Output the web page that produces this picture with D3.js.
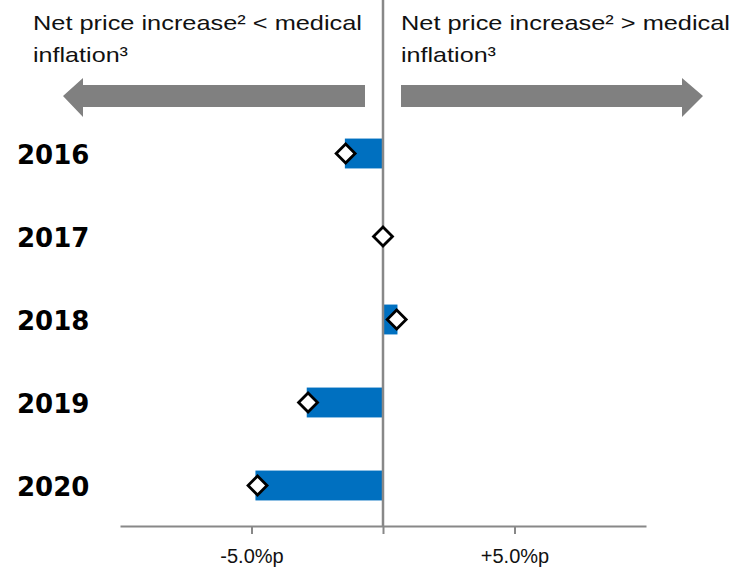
<!DOCTYPE html>
<html>
<head>
<meta charset="utf-8">
<script src="https://cdn.jsdelivr.net/npm/d3@7"></script>
<style>
  body { margin: 0; background: #fff; }
  svg { display: block; }
</style>
</head>
<body>
<svg id="chart" width="736" height="573"></svg>
<script>
var years = ["2016", "2017", "2018", "2019", "2020"];
var barValues = [-1.45, 0, 0.55, -2.9, -4.85];
var markerValues = [-1.42, 0, 0.52, -2.85, -4.77];
var tickValues = [-5, 0, 5];
var tickLabels = ["-5.0%p", "", "+5.0%p"];
var headerLeft = ["Net price increase² < medical", "inflation³"];
var headerRight = ["Net price increase² > medical", "inflation³"];

var svg = d3.select("#chart");
var GREY = "#888888";
var BLUE = "#0070c0";
var AXIS_Y = 526;

var x = d3.scaleLinear().domain([-10, 10]).range([120, 646]);
var y = d3.scaleBand().domain(years).range([112, 527])
  .paddingInner(0.64).paddingOuter(0.32);

// header texts, stretched a bit to the width of the original's wide face
var LINE_W = [329, 95];
function header(lines, x0) {
  var t = svg.append("text")
    .attr("x", x0)
    .attr("y", 30)
    .style("font-family", "'Liberation Sans', Arial, sans-serif")
    .style("font-size", "21px")
    .style("fill", "#111");
  t.selectAll("tspan").data(lines).enter().append("tspan")
    .attr("x", x0)
    .attr("dy", function (d, i) { return i ? 32 : 0; })
    .attr("textLength", function (d, i) { return LINE_W[i]; })
    .attr("lengthAdjust", "spacingAndGlyphs")
    .text(function (d) { return d; });
}
header(headerLeft, 33);
header(headerRight, 401);

// direction arrows
var arrowTop = 85, arrowBot = 107, headTop = 78, headBot = 117;
var mid = (arrowTop + arrowBot) / 2;
svg.append("path")
  .attr("d", "M365," + arrowTop + "L83," + arrowTop + "L83," + headTop + "L63," + mid +
    "L83," + headBot + "L83," + arrowBot + "L365," + arrowBot + "Z")
  .style("fill", "#808080");
svg.append("path")
  .attr("d", "M401," + arrowTop + "L682," + arrowTop + "L682," + headTop + "L703," + mid +
    "L682," + headBot + "L682," + arrowBot + "L401," + arrowBot + "Z")
  .style("fill", "#808080");

// bars
svg.selectAll(".bar").data(barValues).enter().append("rect")
  .attr("class", "bar")
  .attr("x", function (d) { return x(Math.min(0, d)); })
  .attr("y", function (d, i) { return y(years[i]); })
  .attr("width", function (d) { return Math.abs(x(d) - x(0)); })
  .attr("height", y.bandwidth())
  .style("fill", BLUE);

// x axis
var axis = d3.axisBottom(x)
  .tickValues(tickValues)
  .tickSizeInner(8)
  .tickSizeOuter(0)
  .tickPadding(15)
  .tickFormat(function (d, i) { return tickLabels[i]; });

var gx = svg.append("g")
  .attr("transform", "translate(0," + AXIS_Y + ")")
  .call(axis);
gx.select(".domain").style("stroke", GREY).style("stroke-width", 2);
gx.selectAll(".tick line").style("stroke", GREY).style("stroke-width", 2);
gx.selectAll(".tick text")
  .style("font-family", "'Liberation Sans', Arial, sans-serif")
  .style("font-size", "20px")
  .style("fill", "#111");

// zero line
svg.append("line")
  .attr("x1", x(0)).attr("x2", x(0))
  .attr("y1", 0).attr("y2", AXIS_Y)
  .style("stroke", GREY)
  .style("stroke-width", 2.5);

// diamond markers
var sym = d3.symbol().type(d3.symbolSquare).size(180);
svg.selectAll(".marker").data(markerValues).enter().append("path")
  .attr("class", "marker")
  .attr("d", sym)
  .attr("transform", function (d, i) {
    return "translate(" + x(d) + "," + (y(years[i]) + y.bandwidth() / 2) + ") rotate(45)";
  })
  .style("fill", "#fff")
  .style("stroke", "#000")
  .style("stroke-width", 2.8);

// year labels
svg.selectAll(".year").data(years).enter().append("text")
  .attr("class", "year")
  .attr("x", 17)
  .attr("y", function (d) { return y(d) + y.bandwidth() / 2; })
  .attr("dy", "0.4em")
  .style("font-family", "'DejaVu Sans', sans-serif")
  .style("font-weight", "bold")
  .style("font-size", "26px")
  .style("fill", "#000")
  .text(function (d) { return d; });
</script>
</body>
</html>
